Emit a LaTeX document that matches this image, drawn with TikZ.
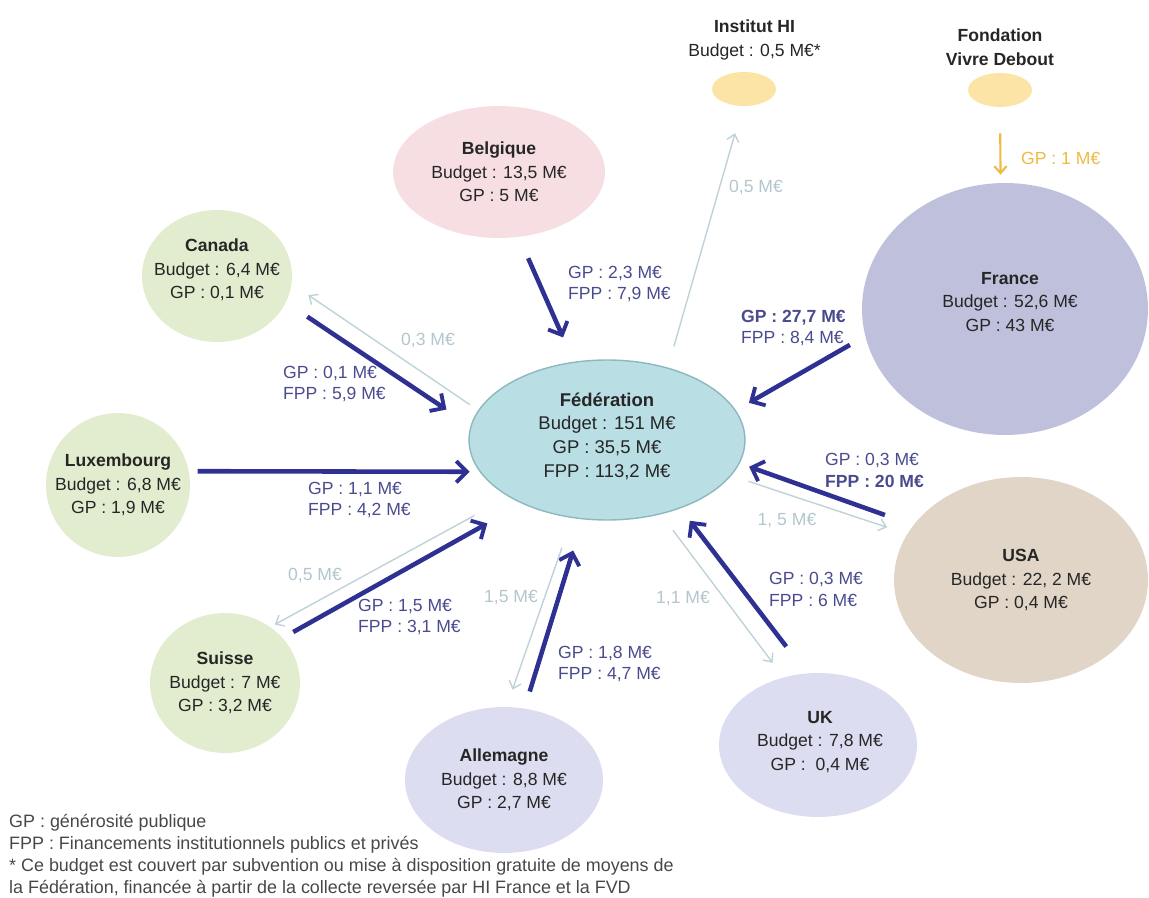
\documentclass[tikz,border=0pt]{standalone}
\usepackage{fontspec}
\setmainfont{Liberation Sans}
\usetikzlibrary{shapes,arrows.meta,positioning,calc}

\definecolor{fedfill}{HTML}{B9DEE4}
\definecolor{fedline}{HTML}{8DB8BE}
\definecolor{belfill}{HTML}{F6DEE2}
\definecolor{vertfill}{HTML}{E2EDCF}
\definecolor{lilas}{HTML}{DDDDF1}
\definecolor{usafill}{HTML}{E0D5C7}
\definecolor{frafill}{HTML}{BFC0DC}
\definecolor{jaune}{HTML}{FBE4A6}
\definecolor{jauneflux}{HTML}{EDBA45}
\definecolor{marine}{HTML}{2E3192}
\definecolor{marinetxt}{HTML}{4A4B8E}
\definecolor{clair}{HTML}{BFD2D8}
\definecolor{clairtxt}{HTML}{B3C6CE}
\definecolor{texte}{HTML}{262626}

\tikzset{
  entite/.style={ellipse, inner sep=0pt},
  nom/.style={align=center, text=texte, font=\fontsize{10}{13.5}\selectfont},
  flux/.style={draw=marine, line width=2.6pt, -{Straight Barb[length=6pt,width=12pt,line width=2.2pt]}},
  retour/.style={draw=clair, line width=0.8pt, -{Straight Barb[length=4pt,width=7pt]}},
  montant/.style={anchor=west, align=left, text=marinetxt, font=\fontsize{10}{12.5}\selectfont},
  montantclair/.style={text=clairtxt, font=\fontsize{10}{12}\selectfont},
}

\begin{document}
\begin{tikzpicture}[x=0.02cm, y=-0.02cm]

  \useasboundingbox (0,0) rectangle (1149,898);

  % entites
  \node[entite, fill=fedfill, draw=fedline, line width=0.8pt, minimum width=5.52cm, minimum height=3.2cm] (fed) at (607,440) {};
  \node[entite, fill=belfill, minimum width=4.24cm, minimum height=2.64cm] (bel) at (499,172) {};
  \node[entite, fill=vertfill, minimum width=3cm, minimum height=2.64cm] (can) at (217,276) {};
  \node[entite, fill=vertfill, minimum width=2.88cm, minimum height=2.88cm] (lux) at (118,485) {};
  \node[entite, fill=vertfill, minimum width=3cm, minimum height=2.8cm] (sui) at (225,683) {};
  \node[entite, fill=lilas, minimum width=3.96cm, minimum height=2.92cm] (all) at (504,780) {};
  \node[entite, fill=lilas, minimum width=3.96cm, minimum height=2.88cm] (uk) at (818,745) {};
  \node[entite, fill=usafill, minimum width=5.08cm, minimum height=4.12cm] (usa) at (1021,580) {};
  \node[entite, fill=frafill, minimum width=5.72cm, minimum height=5.04cm] (fra) at (1005,309) {};
  \node[entite, fill=jaune, minimum width=1.28cm, minimum height=0.68cm] (ihi) at (744,89) {};
  \node[entite, fill=jaune, minimum width=1.28cm, minimum height=0.68cm] (fvd) at (1000,90) {};

  \node[nom, font=\fontsize{10.5}{13.5}\selectfont] (fed-t) at (607,436) {\textbf{Fédération}\\Budget : 151 M€\\GP : 35,5 M€\\FPP : 113,2 M€};
  \node[nom] (bel-t) at (bel) {\textbf{Belgique}\\Budget : 13,5 M€\\GP : 5 M€};
  \node[nom] (can-t) at (217,270) {\textbf{Canada}\\Budget : 6,4 M€\\GP : 0,1 M€};
  \node[nom] (lux-t) at (lux) {\textbf{Luxembourg}\\Budget : 6,8 M€\\GP : 1,9 M€};
  \node[nom] (sui-t) at (sui) {\textbf{Suisse}\\Budget : 7 M€\\GP : 3,2 M€};
  \node[nom] (all-t) at (all) {\textbf{Allemagne}\\Budget : 8,8 M€\\GP : 2,7 M€};
  \node[nom] (uk-t) at (820,742) {\textbf{UK}\\Budget : 7,8 M€\\GP :\ \ 0,4 M€};
  \node[nom] (usa-t) at (usa) {\textbf{USA}\\Budget : 22, 2 M€\\GP : 0,4 M€};
  \node[nom] (fra-t) at (1010,302) {\textbf{France}\\Budget : 52,6 M€\\GP : 43 M€};
  \node[nom, above=3pt of ihi, xshift=6pt] (ihi-t) {\textbf{Institut HI}\\Budget : 0,5 M€*};
  \node[nom, above=0.5pt of fvd] (fvd-t) {\textbf{Fondation}\\\textbf{Vivre Debout}};

  % flux vers la federation
  \draw[flux, shorten <=0.46cm, shorten >=0.53cm] (bel.-73) -- (fed.113);
  \draw[flux, shorten <=0.51cm, shorten >=0.58cm] (can.-21) -- (fed.174);
  \draw[flux, shorten <=0.17cm, shorten >=0.2cm] (lux.11) -- (fed.-166);
  \draw[flux, shorten <=0.24cm, shorten >=0.8cm] (sui.38) -- (fed.-143);
  \draw[flux, shorten <=0.35cm, shorten >=0.65cm] (all.74) -- (fed.-107);
  \draw[flux, shorten <=0.67cm, shorten >=0.31cm] (uk.99) -- (fed.-43);
  \draw[flux, shorten <=0.6cm, shorten >=0.2cm] (usa.153) -- (fed.-10);
  \draw[flux, shorten <=0.35cm, shorten >=0.3cm] (fra.-169) -- (fed.13);

  % flux de la federation
  \draw[retour, shorten <=0.2cm, shorten >=0.4cm] (fed.167) -- (can.-6);
  \draw[retour, shorten <=0.44cm, shorten >=0.56cm] (fed.50) -- (ihi.-94);
  \draw[retour, shorten <=0.36cm, shorten >=0.42cm] (fed.-16.5) -- (usa.158);
  \draw[retour, shorten <=0.4cm, shorten >=0.36cm] (fed.-54) -- (uk.117);
  \draw[retour, shorten <=0.63cm, shorten >=0.36cm] (fed.-114) -- (all.88);
  \draw[retour, shorten <=0.78cm, shorten >=0.1cm] (fed.-150) -- (sui.51);

  \draw[draw=jauneflux, line width=1.2pt, -{Straight Barb[length=4pt,width=7pt]}, shorten <=0.52cm, shorten >=0.16cm] (fvd.-90) -- (fra.92);

  % montants
  \node[montant] (m-bel) at (562,284) {GP : 2,3 M€\\FPP : 7,9 M€};
  \node[montant] (m-can) at (277,384) {GP : 0,1 M€\\FPP : 5,9 M€};
  \node[montant] (m-lux) at (302,500) {GP : 1,1 M€\\FPP : 4,2 M€};
  \node[montant] (m-sui) at (352,617) {GP : 1,5 M€\\FPP : 3,1 M€};
  \node[montant] (m-all) at (552,664) {GP : 1,8 M€\\FPP : 4,7 M€};
  \node[montant] (m-uk) at (763,589) {GP : 0,3 M€\\FPP : 6 M€};
  \node[montant] (m-usa) at (819,470) {GP : 0,3 M€\\\textbf{FPP : 20 M€}};
  \node[montant] (m-fra) at (735,328) {\textbf{GP : 27,7 M€}\\FPP : 8,4 M€};
  \node[montant, text=jauneflux] (m-fvd) at (1015,158) {GP : 1 M€};

  \node[montantclair] (r-can) at (428,340) {0,3 M€};
  \node[montantclair] (r-ihi) at (756,187) {0,5 M€};
  \node[montantclair] (r-usa) at (787,520) {1, 5 M€};
  \node[montantclair] (r-uk) at (683,598) {1,1 M€};
  \node[montantclair] (r-all) at (511,597) {1,5 M€};
  \node[montantclair] (r-sui) at (315,575) {0,5 M€};

  % legende
  \node[anchor=west, align=left, text=texte!85, font=\fontsize{10.2}{12.6}\selectfont] (legende) at (3,856)
    {GP : générosité publique\\FPP : Financements institutionnels publics et privés\\* Ce budget est couvert par subvention ou mise à disposition gratuite de moyens de\\la Fédération, financée à partir de la collecte reversée par HI France et la FVD};

\end{tikzpicture}
\end{document}
